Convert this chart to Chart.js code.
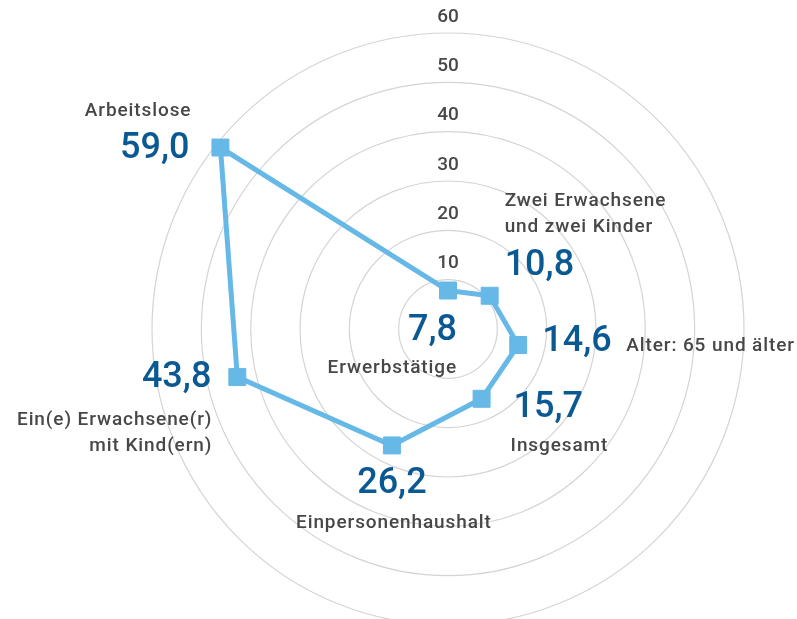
<!DOCTYPE html>
<html>
<head>
<meta charset="utf-8">
<script src="https://cdn.jsdelivr.net/npm/chart.js@4.4.0/dist/chart.umd.min.js"></script>
<style>
  html, body { margin: 0; padding: 0; background: #fff; }
  #wrap { width: 797px; height: 619px; position: relative; }
</style>
</head>
<body>
<div id="wrap"><canvas id="radarChart"></canvas></div>
<script>
// Kategorien (im Uhrzeigersinn ab oben)
const categories = [
  ['Erwerbstätige'],
  ['Zwei Erwachsene', 'und zwei Kinder'],
  ['Alter: 65 und älter'],
  ['Insgesamt'],
  ['Einpersonenhaushalt'],
  ['Ein(e) Erwachsene(r)', 'mit Kind(ern)'],
  ['Arbeitslose']
];
const values = [7.8, 10.8, 14.6, 15.7, 26.2, 43.8, 59.0];
const tickValues = [10, 20, 30, 40, 50, 60];

const LINE_COLOR = '#66b8e6';
const VALUE_COLOR = '#0b5993';
const TEXT_COLOR = '#474747';
const FONT = 'Roboto, "DejaVu Sans", sans-serif';

// Beschriftungen relativ zum Datenpunkt
const labelLayout = [
  { align: 'right',  value: [9, 40],   name: [9, 78] },
  { align: 'left',   value: [15, -30], name: [15, -95] },
  { align: 'left',   value: [24, -3],  name: [108, 1] },
  { align: 'left',   value: [32, 9],   name: [29, 47] },
  { align: 'center', value: [0, 39],   name: [2, 78] },
  { align: 'right',  value: [-26, 1],  name: [-25, 43] },
  { align: 'right',  value: [-31, 1],  name: [-29, -36] }
];

function fmt(v) {
  return v.toFixed(1).replace('.', ',');
}

const tickLabelPlugin = {
  id: 'tickLabels',
  beforeDatasetsDraw(chart) {
    const ctx = chart.ctx;
    const scale = chart.scales.r;
    ctx.save();
    ctx.font = '500 19px ' + FONT;
    ctx.fillStyle = TEXT_COLOR;
    ctx.textAlign = 'center';
    ctx.textBaseline = 'middle';
    tickValues.forEach(v => {
      const d = scale.getDistanceFromCenterForValue(v);
      ctx.fillText(String(v), scale.xCenter, scale.yCenter - d - 16);
    });
    ctx.restore();
  }
};

const pointLabelPlugin = {
  id: 'pointValueLabels',
  afterDatasetsDraw(chart) {
    const ctx = chart.ctx;
    const meta = chart.getDatasetMeta(0);
    ctx.save();
    ctx.textBaseline = 'middle';
    meta.data.forEach((pt, i) => {
      const lay = labelLayout[i];
      ctx.textAlign = lay.align;
      ctx.letterSpacing = '0px';
      ctx.font = '500 36px ' + FONT;
      ctx.fillStyle = VALUE_COLOR;
      ctx.fillText(fmt(values[i]), pt.x + lay.value[0], pt.y + lay.value[1]);
      ctx.font = '500 19px ' + FONT;
      ctx.letterSpacing = '0.9px';
      ctx.fillStyle = TEXT_COLOR;
      categories[i].forEach((line, j) => {
        ctx.fillText(line, pt.x + lay.name[0], pt.y + lay.name[1] + j * 26);
      });
    });
    ctx.restore();
  }
};

const ctx = document.getElementById('radarChart').getContext('2d');
new Chart(ctx, {
  type: 'radar',
  data: {
    labels: categories,
    datasets: [{
      data: values,
      borderColor: LINE_COLOR,
      backgroundColor: LINE_COLOR,
      borderWidth: 5,
      fill: false,
      tension: 0,
      pointStyle: 'rect',
      pointRadius: 12,
      pointBorderWidth: 1,
      pointBackgroundColor: LINE_COLOR,
      pointBorderColor: LINE_COLOR
    }]
  },
  options: {
    responsive: true,
    maintainAspectRatio: false,
    animation: false,
    plugins: {
      legend: { display: false },
      tooltip: { enabled: false }
    },
    scales: {
      r: {
        min: 0,
        max: 60,
        ticks: { display: false, stepSize: 10 },
        grid: { circular: true, color: '#d4d4d4', lineWidth: 1.2 },
        angleLines: { display: false },
        pointLabels: { display: false },
        afterFit(scale) {
          // Mittelpunkt und Radius wie im Original
          scale.xCenter = 448;
          scale.yCenter = 329;
          scale.drawingArea = 296;
        }
      }
    }
  },
  plugins: [tickLabelPlugin, pointLabelPlugin]
});
</script>
</body>
</html>
